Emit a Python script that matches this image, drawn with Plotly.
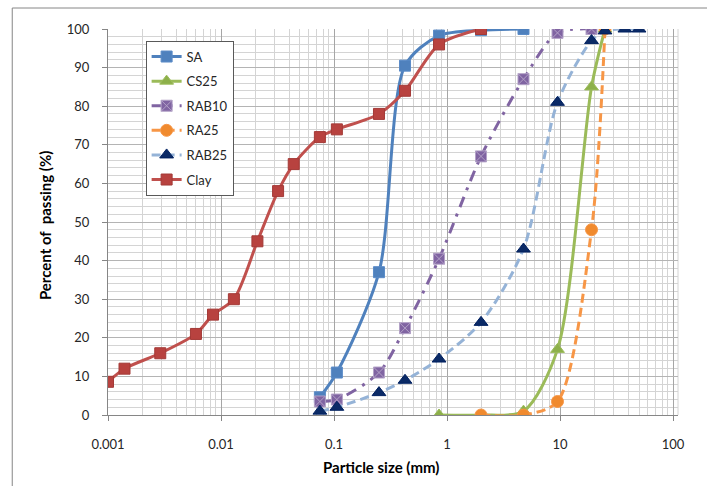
import plotly.graph_objects as go

# Particle size distribution data (particle size in mm, percent passing)
sa_size = [0.075, 0.106, 0.25, 0.425, 0.85, 2.0, 4.75]
sa_pass = [4.6, 11, 37, 90.5, 98.3, 99.7, 100]

cs25_size = [0.85, 2.0, 4.75, 9.5, 19, 25]
cs25_pass = [0, 0, 1, 17, 85, 100]

rab10_size = [0.075, 0.106, 0.25, 0.425, 0.85, 2.0, 4.75, 9.5, 19]
rab10_pass = [3.5, 4, 11, 22.5, 40.5, 67, 87, 99, 100]

ra25_size = [2.0, 4.75, 9.5, 19, 25]
ra25_pass = [0, 0, 3.5, 48, 100]

rab25_size = [0.075, 0.106, 0.25, 0.425, 0.85, 2.0, 4.75, 9.5, 19, 25, 37.5, 50]
rab25_pass = [1, 2, 5.8, 9, 14.5, 24, 43, 81, 97, 99.5, 100, 100]

clay_size = [0.001, 0.0014, 0.0029, 0.006, 0.0085, 0.013, 0.021, 0.032,
             0.044, 0.075, 0.106, 0.25, 0.425, 0.85, 2.0]
clay_pass = [8.6, 12, 16, 21, 26, 30, 45, 58, 65, 72, 74, 78, 84, 96, 100]

x_tick_vals = [0.001, 0.01, 0.1, 1, 10, 100]
x_tick_text = ["0.001", "0.01", "0.1", "1", "10", "100"]

FONT = "Lato"

series = [
    dict(name="SA", x=sa_size, y=sa_pass, color="#4F81BD", dash="solid",
         marker=dict(symbol="square", size=11, color="#4F81BD",
                     line=dict(color="#5B8CC8", width=1))),
    dict(name="CS25", x=cs25_size, y=cs25_pass, color="#9BBB59", dash="solid",
         marker=dict(symbol="triangle-up", size=12, color="#8DB04A",
                     line=dict(color="#9BBB59", width=1))),
    dict(name="RAB10", x=rab10_size, y=rab10_pass, color="#8064A2",
         dash="11px,7px,3px,7px",
         marker=dict(symbol="square-x", size=11, color="#8064A2",
                     line=dict(color="#B3A2C7", width=1))),
    dict(name="RA25", x=ra25_size, y=ra25_pass, color="#F79646", dash="9px,5px",
         marker=dict(symbol="circle", size=12, color="#F08A2E",
                     line=dict(color="#F79646", width=1))),
    dict(name="RAB25", x=rab25_size, y=rab25_pass, color="#95B3D7", dash="9px,5px",
         marker=dict(symbol="triangle-up", size=12, color="#0B2A66",
                     line=dict(color="#002060", width=1))),
    dict(name="Clay", x=clay_size, y=clay_pass, color="#C0504D", dash="solid",
         marker=dict(symbol="square", size=11, color="#B8423F",
                     line=dict(color="#A33A37", width=1))),
]

fig = go.Figure()
for s in series:
    fig.add_trace(go.Scatter(
        x=s["x"], y=s["y"], name=s["name"], legendgroup=s["name"],
        mode="lines+markers",
        line=dict(color=s["color"], width=3, dash=s["dash"],
                  shape="spline", smoothing=0.8),
        marker=s["marker"],
    ))

fig.update_layout(
    width=707, height=486,
    margin=dict(l=108, r=29, t=29, b=71),
    paper_bgcolor="white", plot_bgcolor="white",
    font=dict(family=FONT, size=13, color="#262626"),
    showlegend=True,
    legend=dict(
        x=0.066, y=0.97, xanchor="left", yanchor="top",
        bgcolor="white", bordercolor="#595959", borderwidth=1,
        font=dict(family=FONT, size=13, color="#262626"),
        tracegroupgap=4.7, itemwidth=30,
    ),
    xaxis=dict(
        type="log", range=[-3, 2.044],
        tickvals=x_tick_vals, ticktext=x_tick_text,
        showgrid=True, gridcolor="#A6A6A6", gridwidth=1,
        minor=dict(dtick="D1", showgrid=True, gridcolor="#D4D4D4", gridwidth=1),
        showline=True, linecolor="#868686", linewidth=1,
        ticks="outside", ticklen=5, tickcolor="#868686",
        ticklabelstandoff=12,
        tickfont=dict(family=FONT, size=13, color="#262626"),
        zeroline=False,
    ),
    yaxis=dict(
        range=[0, 100], dtick=10,
        showgrid=True, gridcolor="#B4B4B4", gridwidth=1,
        minor=dict(dtick=2, showgrid=True, gridcolor="#D4D4D4", gridwidth=1),
        showline=True, linecolor="#868686", linewidth=1,
        ticks="outside", ticklen=5, tickcolor="#868686",
        ticklabelstandoff=10,
        tickfont=dict(family=FONT, size=13, color="#262626"),
        zeroline=False,
    ),
    annotations=[
        dict(text="<b>Particle size (mm)</b>", xref="paper", yref="paper",
             x=0.479, y=-0.1347, xanchor="center", yanchor="middle",
             showarrow=False, font=dict(family=FONT, size=15, color="#000000")),
        dict(text="<b>Percent of  passing (%)</b>", xref="paper", yref="paper",
             x=-0.1105, y=0.492, xanchor="center", yanchor="middle",
             textangle=-90, showarrow=False,
             font=dict(family=FONT, size=15, color="#000000")),
    ],
    shapes=[
        # outer chart frame
        dict(type="rect", xref="paper", yref="paper",
             x0=-0.168, x1=1.2, y0=-0.3, y1=1.0544,
             line=dict(color="#868686", width=1), layer="below"),
        # right edge of the plot area
        dict(type="line", xref="paper", yref="paper",
             x0=1, x1=1, y0=0, y1=1,
             line=dict(color="#D4D4D4", width=1), layer="below"),
    ],
)

fig.write_html("out.html")
